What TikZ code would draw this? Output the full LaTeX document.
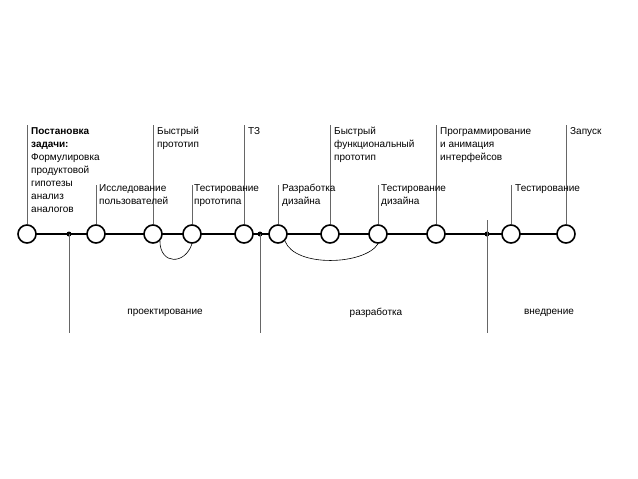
\documentclass[tikz,border=0pt]{standalone}
\usepackage{fontspec}
\setmainfont{Liberation Sans}
\begin{document}
\begin{tikzpicture}[x=1pt,y=-1pt,
  st/.style={circle,draw,line width=1.6pt,fill=white,minimum size=18pt,inner sep=0pt},
  dt/.style={circle,fill=black,minimum size=5pt,inner sep=0pt},
  lbl/.style={anchor=north west,align=left,inner sep=0pt,font=\fontsize{10}{13}\selectfont},
  ph/.style={font=\fontsize{10}{13}\selectfont},
  tick/.style={draw=black!60,line width=0.5pt}]
\useasboundingbox (0,0) rectangle (638,479);
\coordinate (a0) at (27,234);
\draw[line width=1.2pt] (27,234) -- (566,234);
\foreach \n/\x in {c1/27,c2/96,c3/153,c4/192,c5/244,c6/278,c7/330,c8/378,c9/436,c10/511,c11/566}
  \node[st] (\n) at (\x,234) {};
\foreach \n/\x in {d1/69,d2/260,d3/487}
  \node[dt] (\n) at (\x,234) {};
% ticks
\foreach \n/\x/\y in {c1/27/125,c2/96/185,c3/153/125,c4/192/185,c5/244/125,c6/278/185,c7/330/125,c8/378/185,c9/436/125,c10/511/185,c11/566/125}
  {\coordinate (t\n) at (\x,\y); \draw[tick] (t\n) -- (\n.north);}
\foreach \n/\x/\y in {d1/69/234,d2/260/234,d3/487/220}
  {\coordinate (u\n) at (\x,\y); \coordinate (v\n) at (\x,333); \draw[tick] (u\n) -- (v\n);}
% arcs
\draw[line width=0.6pt] (c3.south east) .. controls (160,265) and (185,265) .. (c4.south);
\draw[line width=0.6pt] (c6.south east) .. controls (295,268) and (365,265) .. (c8.south);
% labels
\node[lbl] at (31,127) {\textbf{Постановка}\\\textbf{задачи:}\\Формулировка\\продуктовой\\гипотезы\\анализ\\аналогов};
\node[lbl] at (157,127) {Быстрый\\прототип};
\node[lbl] at (248,127) {ТЗ};
\node[lbl] at (334,127) {Быстрый\\функциональный\\прототип};
\node[lbl] at (440,127) {Программирование\\и анимация\\интерфейсов};
\node[lbl] at (570,127) {Запуск};
\node[lbl] at (99,184) {Исследование\\пользователей};
\node[lbl] at (194,184) {Тестирование\\прототипа};
\node[lbl] at (282,184) {Разработка\\дизайна};
\node[lbl] at (381,184) {Тестирование\\дизайна};
\node[lbl] at (515,184) {Тестирование};
\node[ph] (p1) at (165,313) {проектирование};
\node[ph] (p2) at (376,313) {разработка};
\node[ph] (p3) at (549,313) {внедрение};
\end{tikzpicture}
\end{document}
